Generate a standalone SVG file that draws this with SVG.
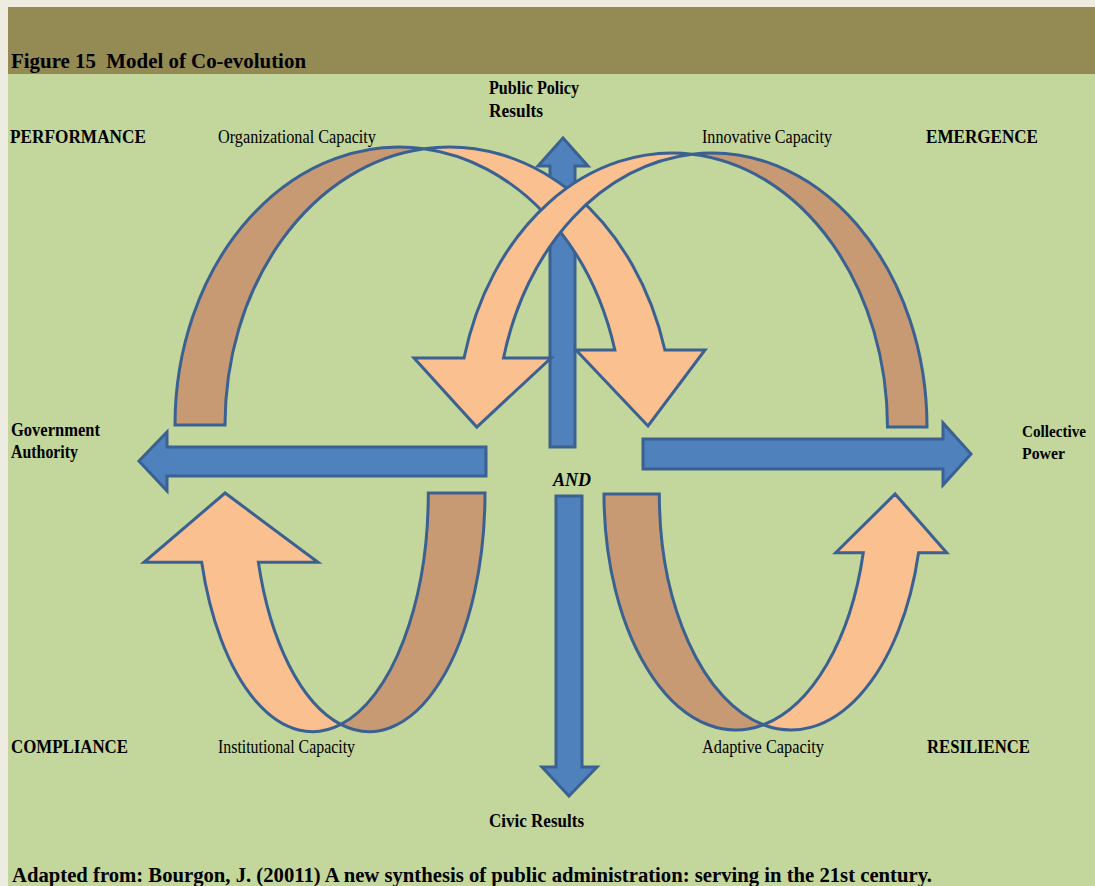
<svg xmlns="http://www.w3.org/2000/svg" width="1095" height="886" viewBox="0 0 1095 886">
  <style>
    .txt { font-family: "Liberation Serif", "Times New Roman", serif; fill: #000; }
    .b { font-weight: bold; font-size: 19px; }
    .r { font-weight: normal; font-size: 18px; }
    .blue { fill: #4F81BD; stroke: #3A6192; stroke-width: 3; stroke-linejoin: miter; }
    .back { fill: #C89A73; stroke: #3A6192; stroke-width: 3; stroke-linejoin: miter; }
    .front { fill: #FAC090; stroke: #3A6192; stroke-width: 3; stroke-linejoin: miter; }
  </style>

  <!-- page frame, header band and panel -->
  <rect x="0" y="0" width="1095" height="886" fill="#EEECE1"/>
  <rect x="8" y="7" width="1087" height="67" fill="#948A54"/>
  <rect x="8" y="74" width="1087" height="812" fill="#C3D69B"/>

  <text class="txt b" x="11" y="68" style="font-size:22px" textLength="295" lengthAdjust="spacingAndGlyphs">Figure 15&#160; Model of Co-evolution</text>

  <!-- straight axis arrows -->
  <g id="connectors">
    <polygon id="arrow-up" class="blue" points="563,138 588,166 575,166 575,447 550,447 550,166 538,166"/>
    <polygon id="arrow-left" class="blue" points="139,461 167,432 167,447 486,447 486,476 167,476 167,491"/>
    <polygon id="arrow-right" class="blue" points="971,454 943,423 943,439 643,439 643,469 943,469 943,485"/>
    <polygon id="arrow-down" class="blue" points="569,796 597,767 582,767 582,496 556,496 556,767 542,767"/>
  </g>

  <!-- organizational capacity: curved arrow over the top-left -->
  <g id="organizational-capacity">
    <path class="back" d="M175,425 A224.1,278 0 0 1 424.1,148.73 A224.1,278 0 0 0 225,425 Z"/>
    <path class="front" d="M424.1,148.73 A224.1,278 0 0 1 664.89,350 L705,350 L648,426 L576,350 L614.89,350 A224.1,278 0 0 0 424.1,148.73 Z"/>
  </g>

  <!-- innovative capacity: curved arrow over the top-right -->
  <g id="innovative-capacity">
    <path class="back" d="M927,427 A215.2,274 0 0 0 692.05,154.16 A215.2,274 0 0 1 887.5,427 Z"/>
    <path class="front" d="M692.05,154.16 A215.2,274 0 0 0 464.04,358 L414,358 L476.8,427 L551,358 L503.54,358 A215.2,274 0 0 1 692.05,154.16 Z"/>
  </g>

  <!-- institutional capacity: U-turn arrow bottom-left -->
  <g id="institutional-capacity">
    <path class="back" d="M485,493 A115.8,238.7 0 0 1 340.85,724.44 A115.8,238.7 0 0 0 428.3,493 Z"/>
    <path class="front" d="M340.85,724.44 A115.8,238.7 0 0 1 201.69,562.3 L144,562.3 L225.1,493 L318,562.3 L258.39,562.3 A115.8,238.7 0 0 0 340.85,724.44 Z"/>
  </g>

  <!-- adaptive capacity: U-turn arrow bottom-right -->
  <g id="adaptive-capacity">
    <path class="back" d="M604,494 A131.7,236 0 0 0 763.35,724.74 A131.7,236 0 0 1 659.3,494 Z"/>
    <path class="front" d="M763.35,724.74 A131.7,236 0 0 0 918.56,552.7 L946.7,552.7 L895.1,494 L835.7,552.7 L863.26,552.7 A131.7,236 0 0 1 763.35,724.74 Z"/>
  </g>

  <!-- labels -->
  <g id="labels">
    <text class="txt b" x="10" y="143" textLength="136" lengthAdjust="spacingAndGlyphs">PERFORMANCE</text>
    <text class="txt r" x="218" y="143" textLength="158" lengthAdjust="spacingAndGlyphs">Organizational Capacity</text>
    <text class="txt r" x="702" y="143" textLength="130" lengthAdjust="spacingAndGlyphs">Innovative Capacity</text>
    <text class="txt b" x="926" y="143" textLength="112" lengthAdjust="spacingAndGlyphs">EMERGENCE</text>

    <text class="txt b" x="489" y="94" textLength="90" lengthAdjust="spacingAndGlyphs">Public Policy</text>
    <text class="txt b" x="489" y="117" textLength="54" lengthAdjust="spacingAndGlyphs">Results</text>

    <text class="txt b" x="11" y="436" textLength="89" lengthAdjust="spacingAndGlyphs">Government</text>
    <text class="txt b" x="11" y="458" textLength="67" lengthAdjust="spacingAndGlyphs">Authority</text>

    <text class="txt b" x="1022" y="437" style="font-size:17px" textLength="64" lengthAdjust="spacingAndGlyphs">Collective</text>
    <text class="txt b" x="1022" y="459" style="font-size:17px" textLength="43" lengthAdjust="spacingAndGlyphs">Power</text>

    <text class="txt b" x="553" y="486" style="font-style:italic" textLength="38" lengthAdjust="spacingAndGlyphs">AND</text>

    <text class="txt b" x="11" y="753" textLength="117" lengthAdjust="spacingAndGlyphs">COMPLIANCE</text>
    <text class="txt r" x="218" y="753" textLength="137" lengthAdjust="spacingAndGlyphs">Institutional Capacity</text>
    <text class="txt r" x="702" y="753" textLength="122" lengthAdjust="spacingAndGlyphs">Adaptive Capacity</text>
    <text class="txt b" x="927" y="753" textLength="103" lengthAdjust="spacingAndGlyphs">RESILIENCE</text>

    <text class="txt b" x="489" y="827" textLength="95" lengthAdjust="spacingAndGlyphs">Civic Results</text>

    <text class="txt b" x="12" y="882" style="font-size:20px" textLength="920" lengthAdjust="spacingAndGlyphs">Adapted from: Bourgon, J. (20011) A new synthesis of public administration: serving in the 21st century.</text>
  </g>
</svg>
